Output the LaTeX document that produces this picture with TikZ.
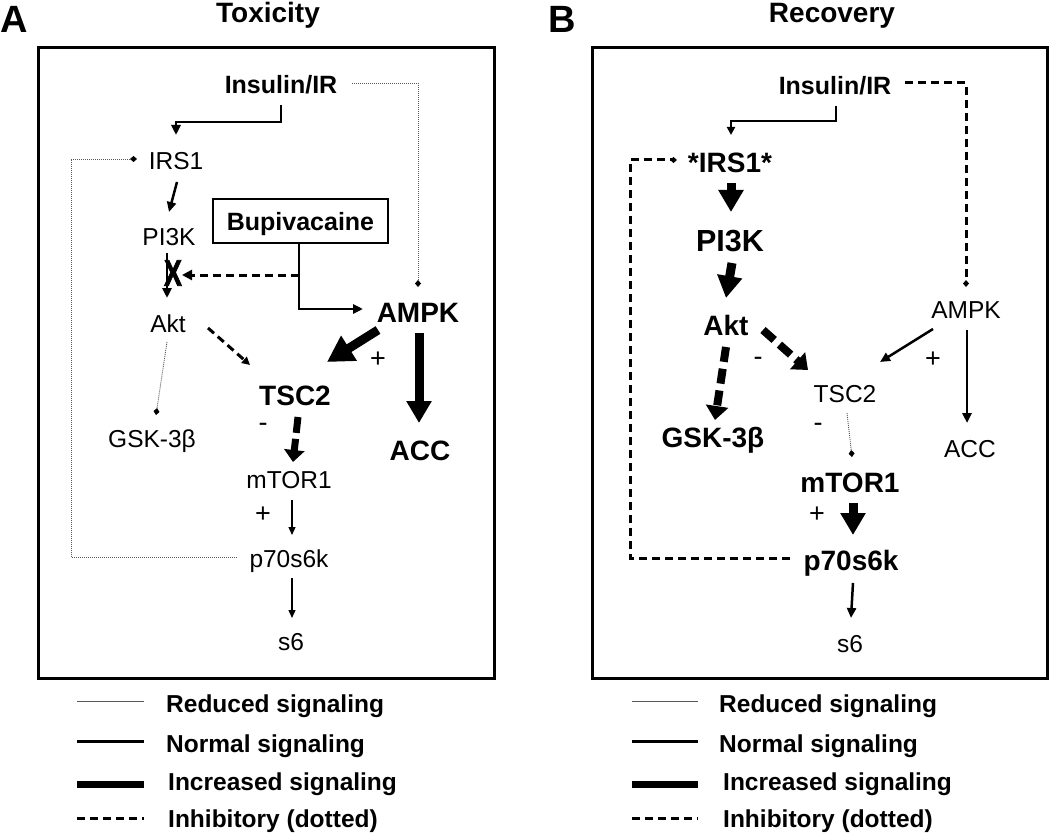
\documentclass[tikz,border=0pt]{standalone}
\usepackage{fontspec}
\setmainfont{Liberation Sans}
\newfontfamily\xmarkfont[FakeBold=2.5]{Liberation Sans Bold}
\usetikzlibrary{arrows.meta}
\begin{document}
\begin{tikzpicture}[x=1pt,y=-1pt,
  reg/.style={font=\fontsize{24.5}{28}\selectfont, inner sep=0pt, anchor=base},
  bld/.style={font=\bfseries\fontsize{28}{32}\selectfont, inner sep=0pt, anchor=base},
  bldS/.style={font=\bfseries\fontsize{25}{28}\selectfont, inner sep=0pt, anchor=base},
  bldL/.style={font=\bfseries\fontsize{30.5}{34}\selectfont, inner sep=0pt, anchor=base},
  ttl/.style={font=\bfseries\fontsize{28}{32}\selectfont, inner sep=0pt, anchor=base},
  lett/.style={font=\bfseries\fontsize{38}{40}\selectfont, inner sep=0pt, anchor=base},
  leg/.style={font=\bfseries\fontsize{24.5}{28}\selectfont, inner sep=0pt, anchor=base west},
  sgn/.style={font=\fontsize{27}{30}\selectfont, inner sep=0pt},
  panelbox/.style={line width=3pt},
  nrm/.style={line width=2.5pt, -{Triangle[length=10pt,width=9pt]}},
  nrmB/.style={line width=2pt, -{Triangle[length=8pt,width=8pt]}},
  thn/.style={line width=1.3pt, -{Triangle[length=8pt,width=7pt]}},
  dotl/.style={line width=0.9pt, gray!70!black, dash pattern=on 1pt off 1pt, -{Diamond[length=7pt,width=6pt,color=black]}},
  thk/.style={line width=9pt, -{Triangle[length=22pt,width=24pt]}},
  thkA/.style={line width=9pt, -{Triangle[length=26pt,width=28pt]}},
  inh/.style={line width=3pt, dash pattern=on 8pt off 5pt, -{Triangle[length=10pt,width=10pt]}},
  inhD/.style={line width=3pt, dash pattern=on 8pt off 5pt, -{Diamond[length=7pt,width=6pt]}},
  thkdash/.style={line width=8pt, dash pattern=on 15pt off 7pt, -{Triangle[length=14pt,width=22pt]}},
]
\useasboundingbox (0,0) rectangle (1050,840);

% ---------------- titles ----------------
\node[lett] (labA) at (14,33) {A};
\node[ttl] (titA) at (268,23) {Toxicity};
\node[lett] (labB) at (562,33) {B};
\node[ttl] (titB) at (832,23) {Recovery};

% ---------------- panel boxes ----------------
\draw[panelbox] (38,48) rectangle (494,678);
\draw[panelbox] (592,48) rectangle (1047,678);

% ================= Panel A =================
\node[bldS] (a_ins) at (281,94) {Insulin/IR};
\node[reg] (a_irs) at (176,170) {IRS1};
\node[reg] (a_pi3k) at (169,245) {PI3K};
\node[reg] (a_akt) at (168,332) {Akt};
\node[font=\bfseries\fontsize{25}{28}\selectfont, draw, line width=2.5pt, minimum width=175pt, minimum height=44pt, inner sep=0pt, text height=18pt, text depth=0pt] (a_bup) at (300.5,221) {Bupivacaine};
\node[bld] (a_ampk) at (418,322) {AMPK};
\node[bld] (a_tsc2) at (295,405) {TSC2};
\node[bld] (a_acc) at (420,460) {ACC};
\node[reg] (a_gsk) at (152,447) {GSK-3β};
\node[reg] (a_mtor) at (289,488) {mTOR1};
\node[reg] (a_p70) at (289,567) {p70s6k};
\node[reg] (a_s6) at (291,650) {s6};

% connectors A
\draw[nrm] ([shift={(0,11)}]a_ins.base) -- ++(0,17) -| ([shift={(0,-35)}]a_irs.base);
\draw[dotl] ([shift={(-52,-10)}]a_p70.base) -- ++(-166,0) |- ([shift={(-39,-11)}]a_irs.base);
\draw[nrm] ([shift={(1,12)}]a_irs.base) -- ([shift={(0,-33)}]a_pi3k.base);
\draw[nrm] ([shift={(-2,8)}]a_pi3k.base) -- ([shift={(-1,-34)}]a_akt.base);
\node[font=\xmarkfont\fontsize{37}{40}\selectfont, inner sep=0pt] (a_x) at (173,273) {\scalebox{0.72}[1]{X}};
\draw[inh] ([shift={(-1.5,54)}]a_bup.center) -- ([shift={(9,2)}]a_x.center);
\draw[nrm] ([xshift=-1.5pt]a_bup.south) |- ([shift={(-55,-13)}]a_ampk.base);
\draw[dotl] ([shift={(71,-11)}]a_ins.base) -| ([shift={(0,-35)}]a_ampk.base);
\draw[thkA] ([shift={(-40,8)}]a_ampk.base) -- ([shift={(32,-43)}]a_tsc2.base);
\draw[thk] ([shift={(1,11)}]a_ampk.base) -- ([shift={(-1,-37)}]a_acc.base);
\draw[inh, -{Triangle[length=8pt,width=8pt]}] ([shift={(40,-4)}]a_akt.base) -- ([shift={(-45,-40)}]a_tsc2.base);
\draw[dotl] ([shift={(-1,10)}]a_akt.base) -- ([shift={(4,-32)}]a_gsk.base);
\draw[line width=7pt, dash pattern=on 16pt off 6pt, -{Triangle[length=12pt,width=20pt]}] ([shift={(3,12)}]a_tsc2.base) -- ([shift={(4,-26)}]a_mtor.base);
\draw[thn] ([shift={(3,12)}]a_mtor.base) -- ([shift={(3,-32)}]a_p70.base);
\draw[thn] ([shift={(3,11)}]a_p70.base) -- ([shift={(1,-32)}]a_s6.base);

\node[sgn] (a_p1) at (378,360) {+};
\node[sgn] (a_m1) at (263,427) {-};
\node[sgn] (a_p2) at (263,515) {+};

% ================= Panel B =================
\node[bldS] (b_ins) at (835,95) {Insulin/IR};
\node[bld] (b_irs) at (730,173) {*IRS1*};
\node[bldL] (b_pi3k) at (730,251) {PI3K};
\node[bld] (b_akt) at (726,335) {Akt};
\node[reg] (b_ampk) at (966,318) {AMPK};
\node[reg] (b_tsc2) at (845,402) {TSC2};
\node[reg] (b_acc) at (970,457) {ACC};
\node[bld] (b_gsk) at (713,447) {GSK-3β};
\node[bld] (b_mtor) at (850,492) {mTOR1};
\node[bld] (b_p70) at (851,570) {p70s6k};
\node[reg] (b_s6) at (850,652) {s6};

\node[sgn] (b_m1) at (758,361) {-};
\node[sgn] (b_p1) at (933,360) {+};
\node[sgn] (b_m2) at (818,427) {-};
\node[sgn] (b_p2) at (817,515) {+};

% connectors B
\draw[nrmB] ([shift={(1,11)}]b_ins.base) -- ++(0,15) -| ([shift={(1,-38)}]b_irs.base);
\draw[inhD] ([shift={(70,-12)}]b_ins.base) -| ([shift={(0,-31)}]b_ampk.base);
\draw[inhD] ([shift={(-61,-12)}]b_p70.base) -- ++(-160,0) |- ([shift={(-53,-13)}]b_irs.base);
\draw[thk] ([shift={(1,10)}]b_irs.base) -- ([shift={(1,-39)}]b_pi3k.base);
\draw[thk] ([shift={(2,12)}]b_pi3k.base) -- ([shift={(0,-37)}]b_akt.base);
\draw[thkdash] ([shift={(37,-5)}]b_akt.base) -- ([shift={(-37,-32)}]b_tsc2.base);
\draw[thkdash] ([shift={(0,12)}]b_akt.base) -- ([shift={(2,-27)}]b_gsk.base);
\draw[nrm] ([shift={(-33,11)}]b_ampk.base) -- ([shift={(35,-40)}]b_tsc2.base);
\draw[nrm] ([shift={(1,12)}]b_ampk.base) -- ([shift={(-3,-34)}]b_acc.base);
\draw[dotl] ([shift={(2,11)}]b_tsc2.base) -- ([shift={(2,-35)}]b_mtor.base);
\draw[thk] ([shift={(3,11)}]b_mtor.base) -- ([shift={(2,-35)}]b_p70.base);
\draw[nrm] ([shift={(2,13)}]b_p70.base) -- ([shift={(1,-34)}]b_s6.base);

% ================= Legends =================
\node[leg] (la1) at (166,712) {Reduced signaling};
\node[leg] (la2) at (166,752) {Normal signaling};
\node[leg] (la3) at (168,790) {Increased signaling};
\node[leg] (la4) at (168,827) {Inhibitory (dotted)};
\draw[line width=1pt, gray!70!black] ([shift={(-89,-11)}]la1.base west) -- ([shift={(-22,-11)}]la1.base west);
\draw[line width=3pt] ([shift={(-89,-11)}]la2.base west) -- ([shift={(-22,-11)}]la2.base west);
\draw[line width=7pt] ([shift={(-91,-6)}]la3.base west) -- ([shift={(-24,-6)}]la3.base west);
\draw[line width=3pt, dash pattern=on 8pt off 5pt] ([shift={(-91,-9)}]la4.base west) -- ([shift={(-24,-9)}]la4.base west);

\node[leg] (lb1) at (719,712) {Reduced signaling};
\node[leg] (lb2) at (719,752) {Normal signaling};
\node[leg] (lb3) at (723,790) {Increased signaling};
\node[leg] (lb4) at (723,827) {Inhibitory (dotted)};
\draw[line width=1pt, gray!70!black] ([shift={(-87,-11)}]lb1.base west) -- ([shift={(-21,-11)}]lb1.base west);
\draw[line width=3pt] ([shift={(-87,-11)}]lb2.base west) -- ([shift={(-21,-11)}]lb2.base west);
\draw[line width=7pt] ([shift={(-91,-6)}]lb3.base west) -- ([shift={(-25,-6)}]lb3.base west);
\draw[line width=3pt, dash pattern=on 8pt off 5pt] ([shift={(-91,-9)}]lb4.base west) -- ([shift={(-25,-9)}]lb4.base west);
\end{tikzpicture}
\end{document}
